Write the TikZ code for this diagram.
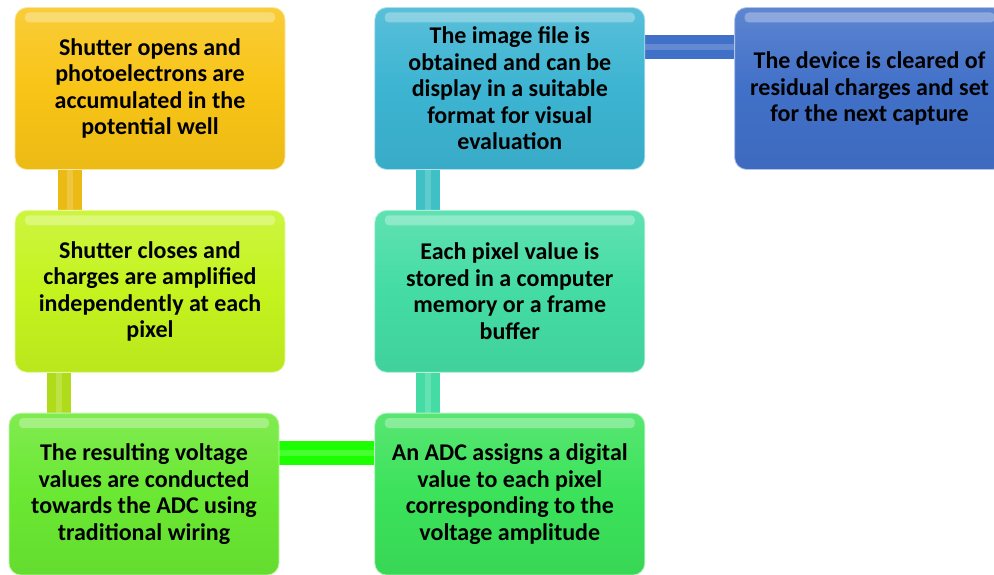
\documentclass[tikz,border=0pt]{standalone}
\usepackage{fontspec}
\setmainfont{Carlito}
\usepackage{tikz}
\usetikzlibrary{positioning,backgrounds}
\definecolor{OpenOrange}{HTML}{F8C416}
\definecolor{CloseLime}{HTML}{C4F31E}
\definecolor{VoltGreen}{HTML}{6AE832}
\definecolor{AdcGreen}{HTML}{3BE25A}
\definecolor{StoreTeal}{HTML}{44DCA4}
\definecolor{ImageCyan}{HTML}{3CB4D2}
\definecolor{ClearBlue}{HTML}{4170C8}

\begin{document}
\begin{tikzpicture}[
        x=1pt, y=1pt,
        stepbox/.style={rectangle, rounded corners=12pt, draw=#1!40!white, line width=0.8pt,
          top color=#1!85!white, bottom color=#1!95!black, middle color=#1,
          minimum width=270pt, minimum height=162pt, inner sep=0pt, align=center,
          font=\fontsize{24}{26.5}\selectfont\bfseries,
          path picture={\fill[white, opacity=0.3, rounded corners=4pt]
            ([xshift=10pt,yshift=-5pt]path picture bounding box.north west) rectangle
            ([xshift=-10pt,yshift=-15pt]path picture bounding box.north east);}},
        bar/.style={line width=24pt, draw=#1,
          postaction={draw=white, draw opacity=0.18, line width=6pt}}
      ]
        \useasboundingbox (0,0) rectangle (994,-575);

        % Left column
        \node[stepbox=OpenOrange] (opens) at (150,-88.5) {
          Shutter opens and\\photoelectrons are\\accumulated in the\\potential well};
        \node[stepbox=CloseLime, below=40pt of opens] (closes) {
          Shutter closes and\\charges are amplified\\independently at each\\pixel};
        \node[stepbox=VoltGreen, below=40pt of closes, xshift=-6pt] (voltage) {
          The resulting voltage\\values are conducted\\towards the ADC using\\traditional wiring};

        % Middle column
        \node[stepbox=AdcGreen, right=95pt of voltage] (adc) {
          An ADC assigns a digital\\value to each pixel\\corresponding to the\\voltage amplitude};
        \node[stepbox=StoreTeal, above=40pt of adc] (store) {
          Each pixel value is\\stored in a computer\\memory or a frame\\buffer};
        \node[stepbox=ImageCyan, above=40pt of store] (image) {
          The image file is\\obtained and can be\\display in a suitable\\format for visual\\evaluation};

        % Right column
        \node[stepbox=ClearBlue, right=89pt of image] (clear) {
          The device is cleared of\\residual charges and set\\for the next capture};

        % Connecting bars
        \begin{scope}[on background layer]
          \draw[bar=OpenOrange!95!black] ([xshift=55pt]opens.south west) -- ([xshift=55pt]opens.south west |- closes.north);
          \draw[bar=CloseLime!90!black] ([xshift=44pt]closes.south west) -- ([xshift=44pt]closes.south west |- voltage.north);
          \draw[bar=green!85!lime] ([yshift=-40pt]voltage.north east) -- ([yshift=-40pt]voltage.north east -| adc.west);
          \draw[bar=StoreTeal] ([xshift=54pt]adc.north west) -- ([xshift=54pt]adc.north west |- store.south);
          \draw[bar=ImageCyan!70!StoreTeal] ([xshift=54pt]store.north west) -- ([xshift=54pt]store.north west |- image.south);
          \draw[bar=ClearBlue] ([yshift=-40pt]image.north east) -- ([yshift=-40pt]image.north east -| clear.west);
        \end{scope}
      \end{tikzpicture}
\end{document}
